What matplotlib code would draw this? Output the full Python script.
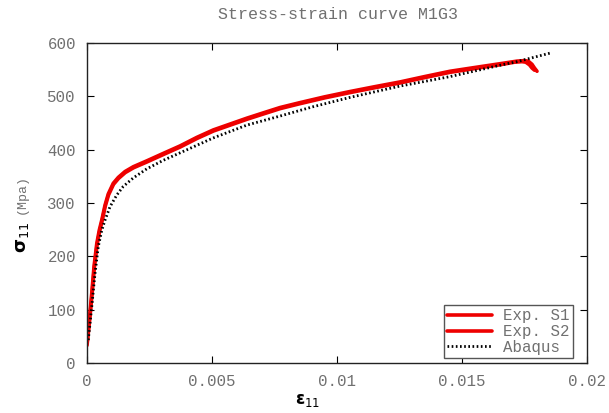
import matplotlib
matplotlib.use("Agg")
import matplotlib.pyplot as plt

# Data
exp1_strain = [0.0, 0.00009, 0.00019, 0.00028, 0.00039, 0.00049, 0.00059, 0.00072,
               0.00085, 0.00105, 0.00125, 0.00152, 0.00185, 0.00239, 0.00305,
               0.00372, 0.00439, 0.00505, 0.00572, 0.00639, 0.00705, 0.00772,
               0.0085, 0.0095, 0.01052, 0.0115, 0.01252, 0.0135, 0.01452,
               0.0155, 0.0165, 0.0172, 0.0175, 0.01765, 0.0178, 0.0179, 0.0180]
exp1_stress = [37, 81, 131, 181, 224, 249, 268, 296,
               317, 337, 348, 359, 368, 379, 393,
               407, 423, 437, 448, 459, 469, 479,
               488, 499, 509, 518, 527, 537, 547,
               554, 561, 566, 567, 566, 560, 553, 547]
exp2_strain = [0.0, 0.00010, 0.00020, 0.00029, 0.00040, 0.00050, 0.00060, 0.00073,
               0.00086, 0.00106, 0.00126, 0.00153, 0.00186, 0.00240, 0.00306,
               0.00373, 0.00440, 0.00506, 0.00573, 0.00640, 0.00706, 0.00773,
               0.0085, 0.0095, 0.01052, 0.0115, 0.01252, 0.0135, 0.01452,
               0.0155, 0.0165, 0.0171, 0.0174, 0.01755, 0.0177, 0.0178, 0.0179]
exp2_stress = [33, 78, 128, 178, 221, 246, 266, 294,
               315, 335, 346, 357, 366, 377, 391,
               405, 421, 435, 446, 457, 467, 477,
               486, 497, 507, 516, 525, 535, 545,
               552, 559, 564, 565, 564, 559, 553, 549]
abq_strain = [0.00005, 0.00019, 0.00032, 0.00045, 0.00059, 0.00072, 0.00092,
              0.00119, 0.00145, 0.00185, 0.00239, 0.00305, 0.00372, 0.00505,
              0.00639, 0.00772, 0.0090, 0.01052, 0.0125, 0.01452, 0.0165,
              0.0172, 0.01852]
abq_stress = [43, 106, 168, 218, 249, 268, 293,
              315, 331, 347, 364, 380, 394, 422,
              446, 463, 480, 498, 519, 537, 558,
              565, 581]

xticks = [0, 0.005, 0.01, 0.015, 0.02]
xtick_labels = ["0", "0.005", "0.01", "0.015", "0.02"]
yticks = [0, 100, 200, 300, 400, 500, 600]

grey = "#707070"
mono = "Liberation Mono"

fig = plt.figure(figsize=(6.09, 4.13), dpi=100)
ax = fig.add_axes([0.1429, 0.1211, 0.8210, 0.7748])

ax.plot(exp1_strain, exp1_stress, color="#ee0000", lw=2.6, label="Exp. S1",
        solid_capstyle="round", solid_joinstyle="round")
ax.plot(exp2_strain, exp2_stress, color="#ee0000", lw=2.6, label="Exp. S2",
        solid_capstyle="round", solid_joinstyle="round")
ax.plot(abq_strain, abq_stress, color="black", lw=2.0, ls=(0, (0.6, 0.9)), label="Abaqus")

ax.set_xlim(0, 0.02)
ax.set_ylim(0, 600)
ax.set_xticks(xticks)
ax.set_xticklabels(xtick_labels)
ax.set_yticks(yticks)
ax.tick_params(direction="in", top=True, right=True, length=5, width=0.8,
               labelsize=11.3, labelcolor=grey, pad=8)
for lab in ax.get_xticklabels() + ax.get_yticklabels():
    lab.set_family(mono)
for s in ax.spines.values():
    s.set_linewidth(1.0)
    s.set_color("#222222")

fig.text(0.555, 0.966, "Stress-strain curve M1G3", fontsize=12, color=grey, family=mono,
         ha="center", va="center")

fig.text(0.036, 0.426, r"$\mathbf{\sigma}_{11}$", rotation=90, fontsize=13, ha="center", va="center")
fig.text(0.036, 0.53, "(Mpa)", rotation=90, fontsize=9.5, color=grey, family=mono,
         ha="center", va="center")
fig.text(0.505, 0.032, r"$\mathbf{\varepsilon}_{11}$", fontsize=12, ha="center", va="center")

leg = ax.legend(loc="lower right", bbox_to_anchor=(0.972, 0.0156), borderaxespad=0,
                prop={"family": mono, "size": 11.3}, frameon=True,
                fancybox=False, borderpad=0.2, labelspacing=0.05, handlelength=2.9,
                handletextpad=0.7, edgecolor="#555555", framealpha=1)
leg.get_frame().set_linewidth(1.0)
for t in leg.get_texts():
    t.set_color(grey)

fig.savefig("out.png", dpi=100)
